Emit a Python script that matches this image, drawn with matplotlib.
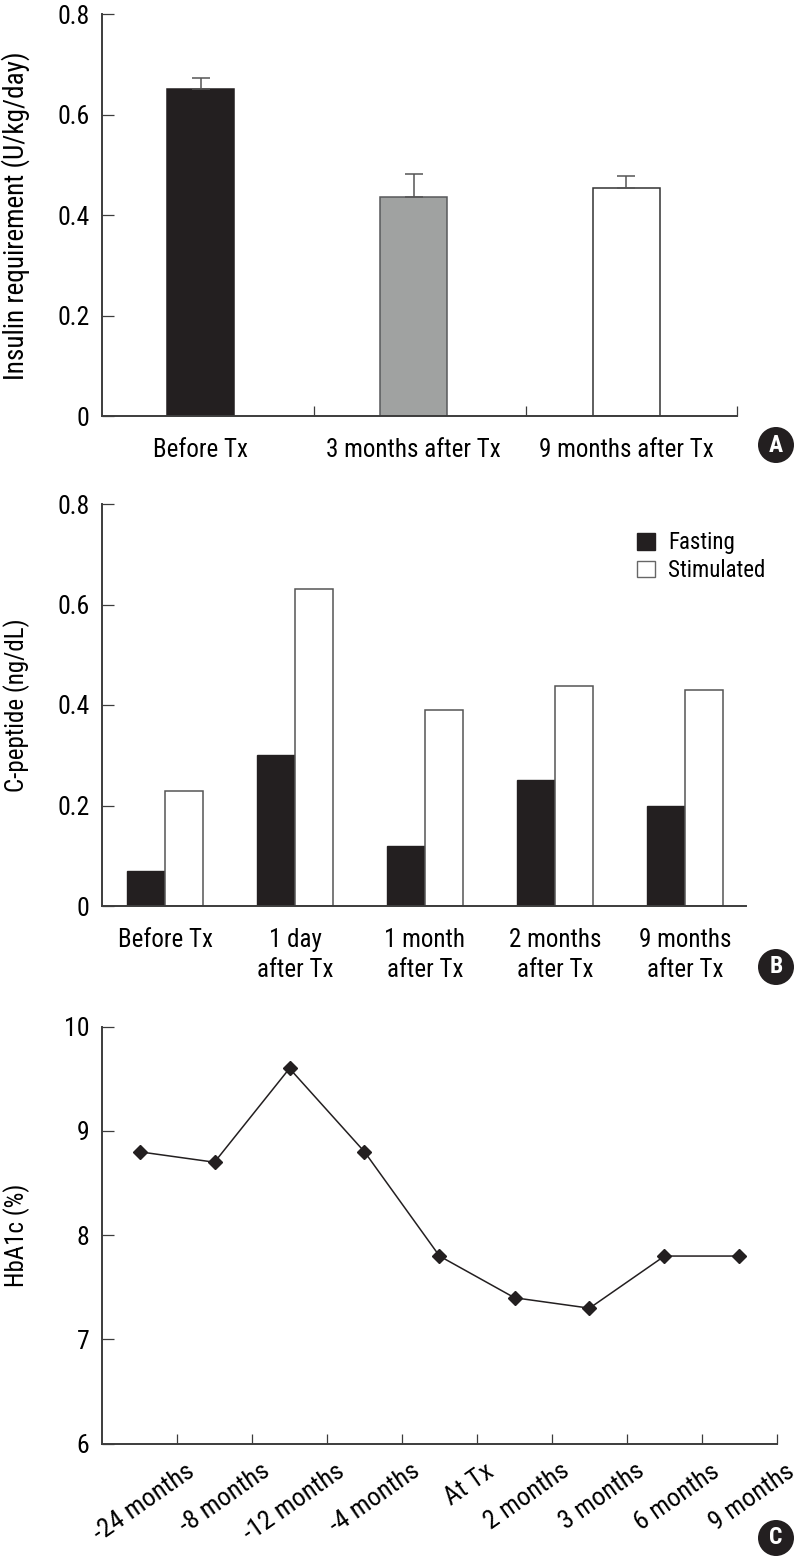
import numpy as np
import matplotlib
matplotlib.use("Agg")
import matplotlib.pyplot as plt
from matplotlib.patches import Patch, Ellipse
from matplotlib import transforms

plt.rcParams['font.family'] = ['Roboto Condensed', 'DejaVu Sans']
plt.rcParams['font.size'] = 18

# Panel A: insulin requirement
insulin_groups = ["Before Tx", "3 months after Tx", "9 months after Tx"]
insulin_mean = [0.652, 0.437, 0.454]
insulin_err = [0.022, 0.044, 0.023]
insulin_colors = ["#231f20", "#a0a2a1", "#ffffff"]
insulin_edges = ["#231f20", "#58595b", "#333333"]

# Panel B: C-peptide
cpep_groups = ["Before Tx", "1 day\nafter Tx", "1 month\nafter Tx",
               "2 months\nafter Tx", "9 months\nafter Tx"]
cpep_fasting = [0.07, 0.30, 0.12, 0.25, 0.20]
cpep_stimulated = [0.228, 0.63, 0.39, 0.438, 0.43]

# Panel C: HbA1c
hba1c_labels = ["-24 months", "-8 months", "-12 months", "-4 months", "At Tx",
                "2 months", "3 months", "6 months", "9 months"]
hba1c_values = [8.8, 8.7, 9.6, 8.8, 7.8, 7.4, 7.3, 7.8, 7.8]

DARK = "#231f20"
AXC = "#3c3c3c"
W, H = 798, 1557

fig = plt.figure(figsize=(W / 100, H / 100), dpi=100)


def px_axes(left, right, top, bottom):
    return fig.add_axes([left / W, 1 - bottom / H, (right - left) / W, (bottom - top) / H])


def style(ax):
    for s in ("top", "right"):
        ax.spines[s].set_visible(False)
    for s in ("left", "bottom"):
        ax.spines[s].set_color(AXC)
        ax.spines[s].set_linewidth(1.4)
    ax.tick_params(axis="y", direction="in", length=8.5, width=0.9, color=AXC, pad=9,
                   labelsize=18.5)
    ax.tick_params(axis="x", which="both", direction="in", length=7, width=0.9, color=AXC)


def badge(letter, cx, cy):
    fig.patches.append(Ellipse((cx / W, 1 - cy / H), 36 / W, 36 / H,
                               transform=fig.transFigure, facecolor=DARK, edgecolor="none"))
    fig.text(cx / W, 1 - cy / H, letter, color="white", fontsize=17, fontweight="bold",
             ha="center", va="center")


# ---------- A ----------
axA = px_axes(102, 737, 14.3, 416)
style(axA)
xa = np.arange(len(insulin_groups))
axA.bar(xa, insulin_mean, width=0.315, color=insulin_colors, edgecolor=insulin_edges, linewidth=1.1)
axA.errorbar(xa, insulin_mean, yerr=[np.zeros(len(xa)), insulin_err], fmt="none",
             ecolor="#555555", elinewidth=1.1, capsize=6.4, capthick=1.1)
axA.set_xlim(-0.465, 2.52)
axA.set_ylim(0, 0.8)
axA.set_yticks([0, 0.2, 0.4, 0.6, 0.8])
axA.set_yticklabels(["0", "0.2", "0.4", "0.6", "0.8"])
axA.set_xticks(xa)
axA.set_xticklabels(insulin_groups)
axA.tick_params(axis="x", which="major", length=0, pad=16)
axA.set_xticks([0.53, 1.53, 2.52], minor=True)
fig.text(16 / W, 1 - 216 / H, "Insulin requirement (U/kg/day)", rotation=90,
         ha="center", va="center", fontsize=19.5)
badge("A", 776, 445)

# ---------- B ----------
axB = px_axes(102, 746, 504, 906)
style(axB)
xb = np.arange(len(cpep_groups))
bw = 0.292
axB.bar(xb - bw / 2, cpep_fasting, width=bw, color=DARK, edgecolor=DARK, linewidth=1.0,
        label="Fasting")
axB.bar(xb + bw / 2, cpep_stimulated, width=bw, color="white", edgecolor="#555555",
        linewidth=1.1, label="Stimulated")
axB.set_xlim(-0.485, 4.47)
axB.set_ylim(0, 0.8)
axB.set_yticks([0, 0.2, 0.4, 0.6, 0.8])
axB.set_yticklabels(["0", "0.2", "0.4", "0.6", "0.8"])
axB.set_xticks(xb)
axB.set_xticklabels(cpep_groups, linespacing=1.3)
axB.tick_params(axis="x", length=0, pad=16)
fig.text(17 / W, 1 - 705 / H, "C-peptide (ng/dL)", rotation=90, ha="center", va="center")
handles = [Patch(facecolor=DARK, edgecolor=DARK), Patch(facecolor="white", edgecolor="#666666")]
fig.legend(handles, ["Fasting", "Stimulated"], loc="upper left",
           bbox_to_anchor=(626 / W, 1 - 520 / H), frameon=False, fontsize=16.5,
           handlelength=0.75, handleheight=0.75, handletextpad=0.6, labelspacing=0.2,
           borderpad=0)
badge("B", 776, 967)

# ---------- C ----------
axC = px_axes(102, 777, 1026.7, 1443.7)
style(axC)
xc = np.arange(len(hba1c_values))
axC.plot(xc, hba1c_values, color=DARK, linewidth=1.1, marker="D", markersize=7,
         markerfacecolor=DARK, markeredgecolor=DARK)
axC.set_xlim(-0.5, 8.5)
axC.set_ylim(6, 10)
axC.set_yticks([6, 7, 8, 9, 10])
axC.set_xticks(xc + 0.5)
axC.set_xticklabels(hba1c_labels, rotation=35, ha="right", va="top",
                    rotation_mode="anchor", fontsize=19)
axC.tick_params(axis="x", pad=11)
off = transforms.ScaledTranslation(0.08, 0, fig.dpi_scale_trans)
for lab in axC.get_xticklabels():
    lab.set_transform(lab.get_transform() + off)
fig.text(17 / W, 1 - 1235 / H, "HbA1c (%)", rotation=90, ha="center", va="center")
badge("C", 776, 1538)

fig.savefig("out.png", dpi=100)
